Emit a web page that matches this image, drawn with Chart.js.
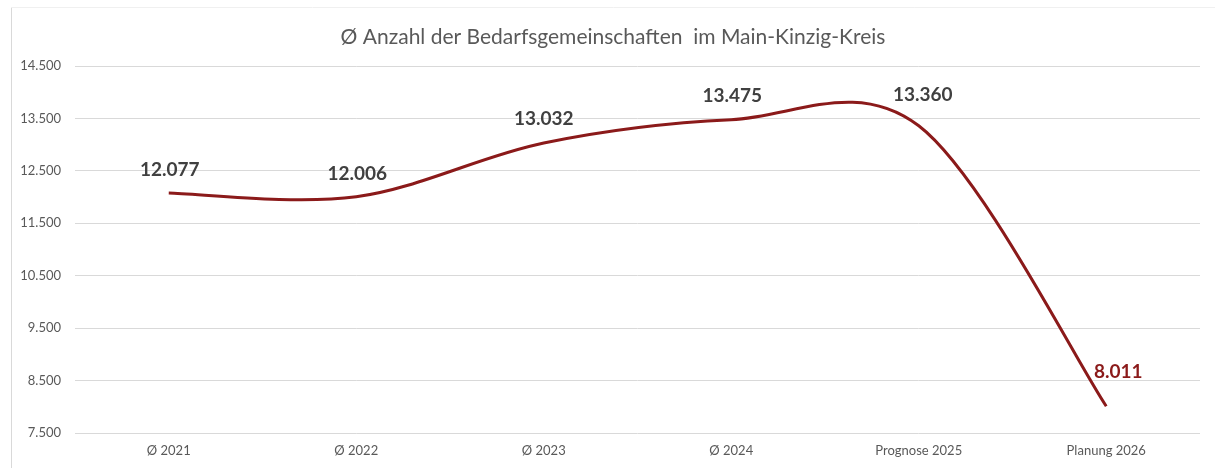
<!DOCTYPE html>
<html>
<head>
<meta charset="utf-8">
<script src="https://cdn.jsdelivr.net/npm/chart.js@4.4.1/dist/chart.umd.min.js"></script>
<style>
  html, body { margin: 0; padding: 0; background: #fff; }
  #wrap { width: 1215px; height: 468px; position: relative; }
</style>
</head>
<body>
<div id="wrap"><canvas id="chart" width="1215" height="468"></canvas></div>
<script>
// Daten aus dem Diagramm
const categories = ['Ø 2021', 'Ø 2022', 'Ø 2023', 'Ø 2024', 'Prognose 2025', 'Planung 2026'];
const values = [12077, 12006, 13032, 13475, 13360, 8011];
const valueLabels = ['12.077', '12.006', '13.032', '13.475', '13.360', '8.011'];
const yTicks = [7500, 8500, 9500, 10500, 11500, 12500, 13500, 14500];
const chartTitle = 'Ø Anzahl der Bedarfsgemeinschaften  im Main-Kinzig-Kreis';

const lineColor = '#8b1a1a';
const fontFamily = 'Lato, "Open Sans", sans-serif';

// Zahlen im deutschen Format (Tausenderpunkt)
const fmt = v => String(v).replace(/\B(?=(\d{3})+(?!\d))/g, '.');

// Glättung wie in Excel (Catmull-Rom), aus den Punkten der Skala berechnet
const smoothPlugin = {
  id: 'smooth',
  beforeDatasetsDraw(chart) {
    const meta = chart.getDatasetMeta(0);
    meta.dataset.updateControlPoints(chart.chartArea);
    const pts = meta.data;
    pts.forEach((p, i) => {
      const prev = pts[i - 1] || p;
      const next = pts[i + 1] || p;
      const dx = (next.x - prev.x) / 6;
      const dy = (next.y - prev.y) / 6;
      p.cp1x = p.x - dx; p.cp1y = p.y - dy;
      p.cp2x = p.x + dx; p.cp2y = p.y + dy;
    });
  }
};

// Titel, Rahmen und Datenbeschriftungen selbst zeichnen
const decorPlugin = {
  id: 'decor',
  afterDraw(chart) {
    const ctx = chart.ctx;
    ctx.save();
    // dezenter Rahmen links / oben
    ctx.strokeStyle = '#d9d9d9';
    ctx.lineWidth = 1;
    ctx.beginPath();
    ctx.moveTo(11.5, 468);
    ctx.lineTo(11.5, 7.5);
    ctx.stroke();
    ctx.strokeStyle = '#f0f0f0';
    ctx.beginPath();
    ctx.moveTo(11.5, 7.5);
    ctx.lineTo(1215, 7.5);
    ctx.stroke();

    // Titel
    ctx.fillStyle = '#595959';
    ctx.font = '21px ' + fontFamily;
    ctx.textAlign = 'center';
    ctx.textBaseline = 'middle';
    ctx.fillText(chartTitle, 613, 37);

    // Datenbeschriftungen
    const meta = chart.getDatasetMeta(0);
    const offsets = [[1, -23], [1, -23], [0, -24], [1, -24], [4, -31], [12, -34]];
    ctx.font = 'bold 19px ' + fontFamily;
    meta.data.forEach((pt, i) => {
      ctx.fillStyle = i === values.length - 1 ? lineColor : '#404040';
      ctx.fillText(valueLabels[i], pt.x + offsets[i][0], pt.y + offsets[i][1]);
    });
    ctx.restore();
  }
};

const ctx = document.getElementById('chart').getContext('2d');
const myChart = new Chart(ctx, {
  type: 'line',
  data: {
    labels: categories,
    datasets: [{
      data: values,
      borderColor: lineColor,
      borderWidth: 3,
      tension: 0.4,
      pointRadius: 0,
      fill: false,
    }],
  },
  options: {
    responsive: false,
    animation: false,
    layout: { padding: { left: 0, right: 15, top: 66, bottom: 0 } },
    plugins: {
      legend: { display: false },
      title: { display: false },
      tooltip: { enabled: false },
    },
    scales: {
      x: {
        offset: true,
        grid: { display: false, drawTicks: false },
        border: { display: false },
        ticks: {
          color: '#595959',
          font: { family: fontFamily, size: 13 },
          padding: 10,
          maxRotation: 0,
        },
        afterFit(scale) { scale.height = 35; },
      },
      y: {
        min: 7500,
        max: 14500,
        afterBuildTicks(scale) { scale.ticks = yTicks.map(v => ({ value: v })); },
        grid: { color: '#d9d9d9', drawTicks: false },
        border: { display: false },
        ticks: {
          color: '#595959',
          font: { family: fontFamily, size: 13 },
          padding: 14,
          callback: v => fmt(v),
        },
        afterFit(scale) { scale.width = 75; },
      },
    },
  },
  plugins: [smoothPlugin, decorPlugin],
});
</script>
</body>
</html>
